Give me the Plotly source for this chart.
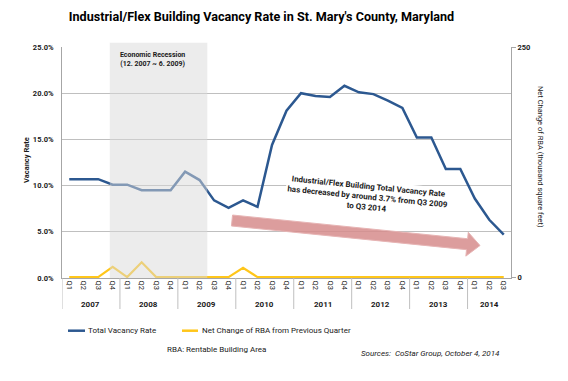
import math
import plotly.graph_objects as go

# ---------------- data ----------------
years = ["2007", "2008", "2009", "2010", "2011", "2012", "2013", "2014"]
quarters_per_year = [4, 4, 4, 4, 4, 4, 4, 3]
quarter_labels = ["Q1", "Q2", "Q3", "Q4"]
categories = [f"{y} {q}" for y, n in zip(years, quarters_per_year) for q in quarter_labels[:n]]
tick_text = [q for n in quarters_per_year for q in quarter_labels[:n]]

vacancy_rate = [10.7, 10.7, 10.7, 10.1,
                10.1, 9.5, 9.5, 9.5,
                11.5, 10.6, 8.4, 7.6,
                8.4, 7.7, 14.4, 18.1,
                20.0, 19.7, 19.6, 20.8,
                20.1, 19.9, 19.2, 18.4,
                15.2, 15.2, 11.8, 11.8,
                8.6, 6.3, 4.7]
net_change_rba = [0, 0, 0, 11,
                  0, 16, 0, 0,
                  0, 0, 0, 0,
                  10, 0, 0, 0,
                  0, 0, 0, 0,
                  0, 0, 0, 0,
                  0, 0, 0, 0,
                  0, 0, 0]
left_ticks = [0, 5, 10, 15, 20, 25]
left_tick_text = ["0.0%", "5.0%", "10.0%", "15.0%", "20.0%", "25.0%"]
right_ticks = [0, 250]

# ---------------- styling ----------------
FONT = "Roboto, sans-serif"
BLUE = "#2C5890"
YELLOW = "#FFC61A"
GRID = "#BFBFBF"
AXIS = "#A6A6A6"
TXT = "#1A1A1A"

W, H = 568, 381
PL, PT, PW, PH = 62, 47, 449, 231


def px(x):
    return (x - PL) / PW


def py(y):
    return (PT + PH - y) / PH


fig = go.Figure()
fig.add_trace(go.Scatter(x=categories, y=vacancy_rate, mode="lines",
                         line=dict(color=BLUE, width=2.5), name="Total Vacancy Rate",
                         showlegend=False))
fig.add_trace(go.Scatter(x=categories, y=net_change_rba, mode="lines", yaxis="y2",
                         line=dict(color=YELLOW, width=2.2),
                         name="Net Change of RBA from Previous Quarter", showlegend=False))

shapes = []
annotations = []

# recession shading (drawn over the lines, semi-transparent)
shapes.append(dict(type="rect", xref="x", yref="paper", x0=2.8, x1=9.53, y0=0, y1=py(42.7),
                   fillcolor="rgba(217,217,217,0.5)", line=dict(width=0), layer="above"))
annotations.append(dict(xref="paper", yref="paper", x=px(152), y=py(59.5),
                        text="<b>Economic Recession<br>(12. 2007 ~ 6. 2009)</b>",
                        showarrow=False, font=dict(family=FONT, size=7, color=TXT),
                        xanchor="center", yanchor="middle"))

# year dividers and labels
start = 0
for y, n in zip(years, quarters_per_year):
    shapes.append(dict(type="line", xref="x", yref="paper", x0=start - 0.5, x1=start - 0.5,
                       y0=0, y1=py(309), line=dict(color=GRID, width=1)))
    annotations.append(dict(xref="x", yref="paper", x=start + (n - 1) / 2, y=py(304),
                            text=f"<b>{y}</b>", showarrow=False,
                            font=dict(family=FONT, size=8, color=TXT),
                            xanchor="center", yanchor="middle"))
    start += n

# big arrow
S = (232.0, 220.5)
T = (480.0, 245.5)
L = math.hypot(T[0] - S[0], T[1] - S[1])
u = ((T[0] - S[0]) / L, (T[1] - S[1]) / L)
nv = (-u[1], u[0])
hw, hh, hl = 5.5, 12.0, 13.0
Hc = (T[0] - hl * u[0], T[1] - hl * u[1])
pts = [
    (S[0] - hw * nv[0], S[1] - hw * nv[1]),
    (Hc[0] - hw * nv[0], Hc[1] - hw * nv[1]),
    (Hc[0] - hh * nv[0], Hc[1] - hh * nv[1]),
    T,
    (Hc[0] + hh * nv[0], Hc[1] + hh * nv[1]),
    (Hc[0] + hw * nv[0], Hc[1] + hw * nv[1]),
    (S[0] + hw * nv[0], S[1] + hw * nv[1]),
]
path = "M " + " L ".join(f"{px(a):.5f},{py(b):.5f}" for a, b in pts) + " Z"
shapes.append(dict(type="path", xref="paper", yref="paper", path=path,
                   fillcolor="rgba(214,140,140,0.85)", line=dict(color="rgba(230,180,180,1)", width=1),
                   layer="above"))

angle = math.degrees(math.atan2(T[1] - S[1], T[0] - S[0]))
annotations.append(dict(xref="paper", yref="paper", x=px(367), y=py(197),
                        text="<b>Industrial/Flex Building Total Vacancy Rate<br>"
                             "has decreased by around 3.7% from Q3 2009<br>to Q3 2014</b>",
                        showarrow=False, textangle=angle, bgcolor="white",
                        font=dict(family=FONT, size=8, color=TXT),
                        xanchor="center", yanchor="middle"))

# axis titles
annotations.append(dict(xref="paper", yref="paper", x=px(26), y=py(160), text="<b>Vacancy Rate</b>",
                        textangle=-90, showarrow=False, font=dict(family=FONT, size=7.5, color=TXT),
                        xanchor="center", yanchor="middle"))
annotations.append(dict(xref="paper", yref="paper", x=px(541), y=py(157),
                        text="Net Change of RBA (thousand square feet)",
                        textangle=90, showarrow=False, font=dict(family=FONT, size=7.5, color=TXT),
                        xanchor="center", yanchor="middle"))

# manual legend
shapes.append(dict(type="line", xref="paper", yref="paper", x0=px(68), x1=px(85), y0=py(330.7),
                   y1=py(330.7), line=dict(color=BLUE, width=2.5)))
annotations.append(dict(xref="paper", yref="paper", x=px(86), y=py(330.7), text="Total Vacancy Rate",
                        showarrow=False, font=dict(family=FONT, size=8, color=TXT),
                        xanchor="left", yanchor="middle"))
shapes.append(dict(type="line", xref="paper", yref="paper", x0=px(182), x1=px(198), y0=py(330.7),
                   y1=py(330.7), line=dict(color=YELLOW, width=2.5)))
annotations.append(dict(xref="paper", yref="paper", x=px(199.5), y=py(330.7),
                        text="Net Change of RBA from Previous Quarter",
                        showarrow=False, font=dict(family=FONT, size=8, color=TXT),
                        xanchor="left", yanchor="middle"))

annotations.append(dict(xref="paper", yref="paper", x=px(165), y=py(349),
                        text="RBA: Rentable Building Area",
                        showarrow=False, font=dict(family=FONT, size=8, color=TXT),
                        xanchor="left", yanchor="middle"))
annotations.append(dict(xref="paper", yref="paper", x=px(359), y=py(353),
                        text="<i>Sources:  CoStar Group, October 4, 2014</i>",
                        showarrow=False, font=dict(family=FONT, size=8, color=TXT),
                        xanchor="left", yanchor="middle"))

fig.update_layout(
    width=W, height=H,
    margin=dict(l=PL, r=W - PL - PW, t=PT, b=H - PT - PH, pad=0),
    paper_bgcolor="white", plot_bgcolor="white",
    font=dict(family=FONT, color=TXT),
    title=dict(text="<b>Industrial/Flex Building Vacancy Rate in St. Mary's County, Maryland</b>",
               x=261.5 / W, xanchor="center", y=1 - 16.5 / H, yanchor="middle",
               xref="container", yref="container",
               font=dict(family=FONT, size=12.6, color="#000000")),
    xaxis=dict(type="category", categoryorder="array", categoryarray=categories,
               range=[-0.5, len(categories) - 0.5],
               tickmode="array", tickvals=categories, ticktext=tick_text, tickangle=90,
               tickfont=dict(family=FONT, size=7.5, color=TXT),
               showgrid=False, showline=True, linecolor=AXIS, linewidth=1, ticks="",
               zeroline=False, fixedrange=True, automargin=False),
    yaxis=dict(range=[0, 25], tickmode="array", tickvals=left_ticks, ticktext=left_tick_text,
               tickfont=dict(family=FONT, size=7.5, color=TXT, weight="bold"),
               showgrid=True, gridcolor=GRID, gridwidth=1, showline=True, linecolor=AXIS,
               linewidth=1, ticks="", ticklabelstandoff=6, zeroline=False, automargin=False),
    yaxis2=dict(range=[-1, 250], overlaying="y", side="right", tickmode="array",
                tickvals=right_ticks, tickfont=dict(family=FONT, size=7.5, color=TXT, weight="bold"),
                showgrid=False, showline=True, linecolor=AXIS, linewidth=1,
                ticks="outside", ticklen=4, tickcolor=AXIS, zeroline=False, automargin=False),
    shapes=shapes,
    annotations=annotations,
)

fig.write_html("out.html",
               config={"displayModeBar": False, "staticPlot": True},
               post_script="document.body.style.margin='0';document.body.style.overflow='hidden';")
